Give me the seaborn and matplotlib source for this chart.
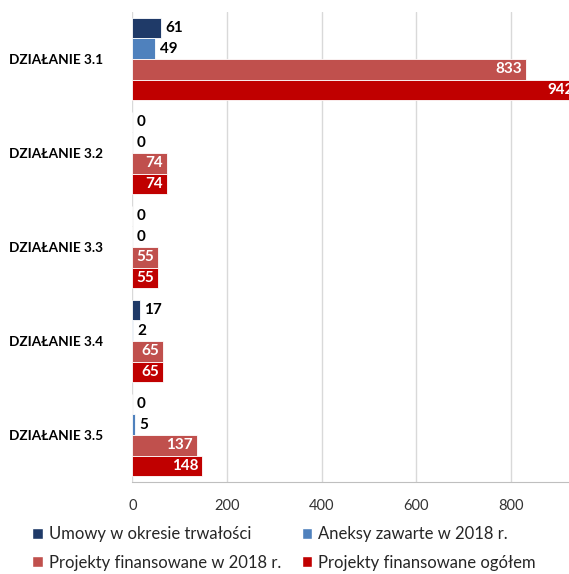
import pandas as pd
import seaborn as sns
import matplotlib.pyplot as plt
from matplotlib.patches import Patch

categories = ["DZIAŁANIE 3.1", "DZIAŁANIE 3.2", "DZIAŁANIE 3.3", "DZIAŁANIE 3.4", "DZIAŁANIE 3.5"]
series = [
    "Umowy w okresie trwałości",
    "Aneksy zawarte w 2018 r.",
    "Projekty finansowane w 2018 r.",
    "Projekty finansowane ogółem",
]
umowy = [61, 0, 0, 17, 0]
aneksy = [49, 0, 0, 2, 5]
projekty_2018 = [833, 74, 55, 65, 137]
projekty_ogolem = [942, 74, 55, 65, 148]
colors = ["#1F3A68", "#4F81BD", "#C0504D", "#C00000"]

rows = []
for s, vals in zip(series, [umowy, aneksy, projekty_2018, projekty_ogolem]):
    for c, v in zip(categories, vals):
        rows.append({"cat": c, "series": s, "value": v})
df = pd.DataFrame(rows)

sns.set_style("white")
plt.rcParams["font.family"] = ["Lato", "DejaVu Sans"]

fig = plt.figure(figsize=(5.69, 5.74), dpi=100)
ax = fig.add_axes([132.3 / 569, 1 - 482 / 574, 473 / 569, 470 / 574])

sns.barplot(
    data=df, y="cat", x="value", hue="series", orient="h",
    hue_order=series, order=categories, palette=colors, saturation=1,
    width=0.88, edgecolor="white", linewidth=0.6, legend=False, ax=ax,
)

for i, cont in enumerate(ax.containers):
    if i < 2:
        ax.bar_label(cont, padding=3, fontsize=11, fontweight="bold", color="black")
    else:
        texts = ax.bar_label(cont, padding=-3, fontsize=11,
                             fontweight="bold", color="white")
        for t in texts:
            t.set_ha("right")

ax.set_xlim(0, 1000)
ax.set_xticks([0, 200, 400, 600, 800])
ax.xaxis.grid(True, color="#D9D9D9", linewidth=1)
ax.set_axisbelow(True)
ax.set_xlabel("")
ax.set_ylabel("")
ax.tick_params(axis="x", labelsize=10.5, colors="#333333", length=0, pad=12)
ax.tick_params(axis="y", length=0, pad=21)
for lab in ax.get_yticklabels():
    lab.set_fontweight("bold")
    lab.set_fontsize(9.8)
    lab.set_color("black")
for sp in ["top", "right", "left"]:
    ax.spines[sp].set_visible(False)
ax.spines["bottom"].set_color("#BFBFBF")

handles = [Patch(facecolor=c) for c in colors]
order = [0, 2, 1, 3]
fig.legend([handles[k] for k in order], [series[k] for k in order],
           ncol=2, loc="center left", bbox_to_anchor=(0.056, 0.0445),
           frameon=False, fontsize=12, handlelength=0.65, handleheight=0.65,
           handletextpad=0.35, columnspacing=1.25, labelspacing=0.75,
           borderpad=0, borderaxespad=0)

plt.savefig("out.png", dpi=100)
